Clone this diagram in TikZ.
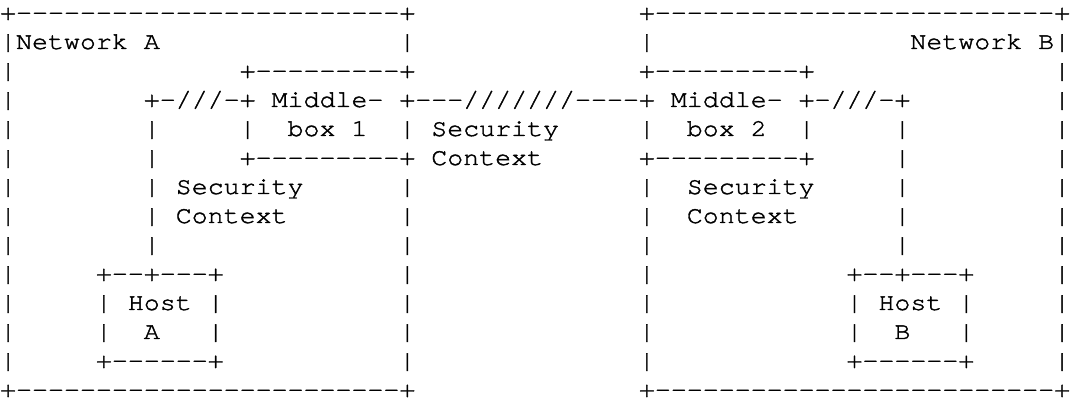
\documentclass[tikz,border=0pt]{standalone}
\usepackage{fontspec}
\IfFontExistsTF{texgyrecursor-regular.otf}
  {\setmonofont{texgyrecursor-regular.otf}[FakeStretch=1.1,FakeBold=1.5]}
  {\setmonofont{Liberation Mono}[FakeStretch=1.1]}
\tikzset{asc/.style={anchor=base west, inner sep=0pt, outer sep=0pt, text=black,
  font=\ttfamily\fontsize{24.2pt}{29pt}\selectfont}}
% #1 name, #2 column, #3 row, #4 text
\newcommand\ac[4]{\node[asc] (#1) at ({0.1+15.97*(#2)},{383-29*(#3)}) {#4};}
\begin{document}
\begin{tikzpicture}[x=1pt,y=1pt]
\fill[white] (0,0) rectangle (1070,403);
\useasboundingbox (0,0) rectangle (1070,403);
% row 0
\ac{r0a}{0}{0}{+------------------------+}
\ac{r0b}{40}{0}{+-------------------------+}
% row 1
\ac{r1a}{0}{1}{|Network}
\ac{r1b}{9}{1}{A}
\ac{r1c}{25}{1}{|}
\ac{r1d}{40}{1}{|}
\ac{r1e}{57}{1}{Network}
\ac{r1f}{65}{1}{B|}
% row 2
\ac{r2a}{0}{2}{|}
\ac{r2b}{15}{2}{+---------+}
\ac{r2c}{40}{2}{+---------+}
\ac{r2d}{66}{2}{|}
% row 3
\ac{r3a}{0}{3}{|}
\ac{r3b}{9}{3}{+-///-+}
\ac{r3c}{17}{3}{Middle-}
\ac{r3d}{25}{3}{+---///////----+}
\ac{r3e}{42}{3}{Middle-}
\ac{r3f}{50}{3}{+-///-+}
\ac{r3g}{66}{3}{|}
% row 4
\ac{r4a}{0}{4}{|}
\ac{r4b}{9}{4}{|}
\ac{r4c}{15}{4}{|}
\ac{r4d}{18}{4}{box}
\ac{r4e}{22}{4}{1}
\ac{r4f}{25}{4}{|}
\ac{r4g}{27}{4}{Security}
\ac{r4h}{40}{4}{|}
\ac{r4i}{43}{4}{box}
\ac{r4j}{47}{4}{2}
\ac{r4k}{50}{4}{|}
\ac{r4l}{56}{4}{|}
\ac{r4m}{66}{4}{|}
% row 5
\ac{r5a}{0}{5}{|}
\ac{r5b}{9}{5}{|}
\ac{r5c}{15}{5}{+---------+}
\ac{r5d}{27}{5}{Context}
\ac{r5e}{40}{5}{+---------+}
\ac{r5f}{56}{5}{|}
\ac{r5g}{66}{5}{|}
% row 6
\ac{r6a}{0}{6}{|}
\ac{r6b}{9}{6}{|}
\ac{r6c}{11}{6}{Security}
\ac{r6d}{25}{6}{|}
\ac{r6e}{40}{6}{|}
\ac{r6f}{43}{6}{Security}
\ac{r6g}{56}{6}{|}
\ac{r6h}{66}{6}{|}
% row 7
\ac{r7a}{0}{7}{|}
\ac{r7b}{9}{7}{|}
\ac{r7c}{11}{7}{Context}
\ac{r7d}{25}{7}{|}
\ac{r7e}{40}{7}{|}
\ac{r7f}{43}{7}{Context}
\ac{r7g}{56}{7}{|}
\ac{r7h}{66}{7}{|}
% row 8
\ac{r8a}{0}{8}{|}
\ac{r8b}{9}{8}{|}
\ac{r8c}{25}{8}{|}
\ac{r8d}{40}{8}{|}
\ac{r8e}{56}{8}{|}
\ac{r8f}{66}{8}{|}
% row 9
\ac{r9a}{0}{9}{|}
\ac{r9b}{6}{9}{+--+---+}
\ac{r9c}{25}{9}{|}
\ac{r9d}{40}{9}{|}
\ac{r9e}{53}{9}{+--+---+}
\ac{r9f}{66}{9}{|}
% row 10
\ac{r10a}{0}{10}{|}
\ac{r10b}{6}{10}{|}
\ac{r10c}{8}{10}{Host}
\ac{r10d}{13}{10}{|}
\ac{r10e}{25}{10}{|}
\ac{r10f}{40}{10}{|}
\ac{r10g}{53}{10}{|}
\ac{r10h}{55}{10}{Host}
\ac{r10i}{60}{10}{|}
\ac{r10j}{66}{10}{|}
% row 11
\ac{r11a}{0}{11}{|}
\ac{r11b}{6}{11}{|}
\ac{r11c}{9}{11}{A}
\ac{r11d}{13}{11}{|}
\ac{r11e}{25}{11}{|}
\ac{r11f}{40}{11}{|}
\ac{r11g}{53}{11}{|}
\ac{r11h}{56}{11}{B}
\ac{r11i}{60}{11}{|}
\ac{r11j}{66}{11}{|}
% row 12
\ac{r12a}{0}{12}{|}
\ac{r12b}{6}{12}{+------+}
\ac{r12c}{25}{12}{|}
\ac{r12d}{40}{12}{|}
\ac{r12e}{53}{12}{+------+}
\ac{r12f}{66}{12}{|}
% row 13
\ac{r13a}{0}{13}{+------------------------+}
\ac{r13b}{40}{13}{+-------------------------+}
\end{tikzpicture}
\end{document}
